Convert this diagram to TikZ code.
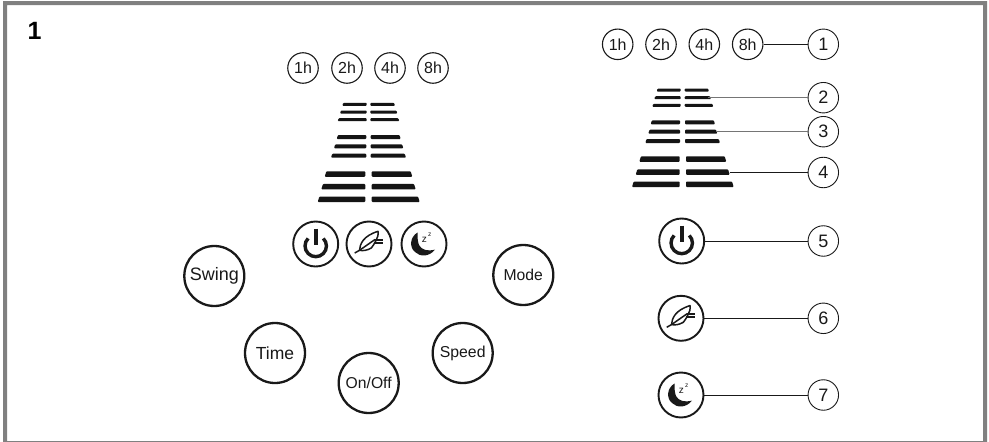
\documentclass[tikz,border=0pt]{standalone}
\usepackage{fontspec}
\setmainfont{Liberation Sans}
\newcommand{\barrow}[6]{%
 \fill[rounded corners=0.9pt,barcol] (#1,#5+#6/2) -- (#1+#6*.3,#5-#6/2) -- (#2,#5-#6/2) -- (#2,#5+#6/2) -- cycle;
 \fill[rounded corners=0.9pt,barcol] (#3,#5+#6/2) -- (#3,#5-#6/2) -- (#4-#6*.3,#5-#6/2) -- (#4,#5+#6/2) -- cycle;}
\tikzset{x=1pt,y=-1pt,
 timer/.style={circle,draw=ink,line width=1.1pt,minimum size=30.5pt,inner sep=0pt,text=ink,font=\fontsize{16}{17}\selectfont},
 num/.style={circle,draw=ink,line width=0.9pt,minimum size=30.5pt,inner sep=0pt,text=ink,font=\fontsize{18}{19}\selectfont},
 btn/.style={circle,draw=ink,line width=2.3pt,minimum size=60pt,inner sep=0pt,text=ink},
 icon/.style={circle,draw=ink,line width=1.9pt,minimum size=45pt,inner sep=0pt},
 lead/.style={draw=ink,line width=1pt},
 leadgray/.style={draw=ink!60,line width=1pt},
 pwr/.pic={
  \draw[ink,line width=3.4pt] (7.6,-5.6) arc[start angle=-45,end angle=225,radius=10.7];
  \draw[ink,line width=4pt] (0,-15.5) -- (0,1);
 },
 feath/.pic={
  \draw[ink,line width=1.5pt,line join=round] (-9.5,6.3) .. controls (-9,0) and (-6,-8) .. (9,-12.7)
    .. controls (9.5,-9) and (8.5,-6) .. (7.3,-4.3) .. controls (5.5,0) and (3,3) .. (2.3,4)
    .. controls (-2,6.5) and (-6,7) .. (-9.5,6.3) -- cycle;
  \draw[ink,line width=1.5pt] (-14.3,9) -- (-9.5,6.3) -- (6,-4.5);
  \draw[ink,line width=1.7pt] (5.5,-4.3) -- (14,-4.3);
  \draw[ink,line width=1.7pt] (4.5,-1) -- (14,-1);
 },
 mooon/.pic={
  \fill[ink] (-6.5,-11.5) .. controls (-14,-7) and (-15,3) .. (-9,8)
    .. controls (-4,13) and (5,13) .. (11,5.7)
    .. controls (4,7.5) and (-2.5,6) .. (-5,1) .. controls (-6.5,-3) and (-6.5,-7) .. (-6.5,-11.5) -- cycle;
  \node[text=ink,inner sep=0pt,font=\fontsize{10}{10}\selectfont] at (0.3,-4) {z};
  \node[text=ink,inner sep=0pt,font=\fontsize{6.5}{7}\selectfont] at (5.7,-9) {z};
 }
}
\colorlet{ink}{black!90}
\colorlet{barcol}{black!92}
\colorlet{framecol}{black!50}
\begin{document}
\begin{tikzpicture}
\useasboundingbox (0,0) rectangle (989,442);
\fill[white] (0,0) rectangle (989,442);
\fill[framecol,even odd rule] (3,1) rectangle (987,442) (7,5) rectangle (983,441);
\node[font=\bfseries\fontsize{25}{27}\selectfont,text=black,inner sep=0pt] (title) at (34.5,31) {1};
% left timers
\node[timer] (la) at (303,68) {1h};
\node[timer] (lb) at (347,68) {2h};
\node[timer] (lc) at (390,68) {4h};
\node[timer] (ld) at (433,68) {8h};
% left bars
\barrow{342.3}{366.7}{370.3}{395}{104.3}{3}
\barrow{340}{366.7}{370.3}{397.3}{112}{3}
\barrow{337.7}{366.7}{370.3}{399.3}{119.7}{3}
\barrow{336.7}{366.3}{370.7}{400.7}{137}{4}
\barrow{334}{366.3}{370.7}{403.3}{146.3}{4}
\barrow{331}{366.3}{370.7}{406}{155.7}{4}
\barrow{324.7}{365.3}{371.7}{412.3}{174}{5.5}
\barrow{321.3}{365.3}{371.7}{415.7}{186.7}{5.5}
\barrow{317.7}{365.3}{371.7}{419.7}{199.3}{5.5}
% left icons
\node[icon] (lp) at (315.7,244) {};
\node[icon] (lf) at (369,244) {};
\node[icon] (lm) at (424,244) {};
\pic at (lp.center) {pwr};
\pic at (lf.center) {feath};
\pic at (lm.center) {mooon};
% buttons
\node[btn,font=\fontsize{18}{20}\selectfont] (swing) at (214.3,276) {Swing};
\node[btn,font=\fontsize{17.5}{20}\selectfont] (time) at (275,353) {Time};
\node[btn,font=\fontsize{15.7}{18}\selectfont] (onoff) at (368.7,383) {On/Off};
\node[btn,font=\fontsize{15.8}{18}\selectfont] (speed) at (462.7,353) {Speed};
\node[btn,font=\fontsize{15.7}{18}\selectfont] (mode) at (523.3,275) {Mode};
% right timers
\node[timer] (ra) at (617.7,44.3) {1h};
\node[timer] (rb) at (661,44.3) {2h};
\node[timer] (rc) at (704.3,44.3) {4h};
\node[timer] (rd) at (747.7,44.3) {8h};
% right bars
\barrow{656.7}{680.7}{684.7}{709}{90}{3}
\barrow{654.3}{680.7}{684.7}{711}{97.7}{3}
\barrow{652.3}{680.7}{684.7}{713.3}{105.3}{3}
\barrow{650.7}{680}{685}{715}{122.3}{4}
\barrow{648.3}{680}{685}{717.3}{131.7}{4}
\barrow{645.3}{680}{685}{720}{141}{4}
\barrow{639.3}{679.7}{686}{726.3}{159}{5.5}
\barrow{635.7}{679.7}{686}{729.7}{172}{5.5}
\barrow{632}{679.7}{686}{733.7}{184.3}{5.5}
\coordinate (bartwo) at (708,97.7);
\coordinate (barthree) at (716,131.7);
\coordinate (barfour) at (729.5,172.5);
% right icons
\node[icon] (rp) at (681.7,241) {};
\node[icon] (rf) at (681,318.3) {};
\node[icon] (rm) at (681,395) {};
\pic at (rp.center) {pwr};
\pic at (rf.center) {feath};
\pic at (rm.center) {mooon};
% numbers
\node[num] (n1) at (823.3,44.3) {1};
\node[num] (n2) at (823.3,97.7) {2};
\node[num] (n3) at (823.3,131.7) {3};
\node[num] (n4) at (823.3,172.5) {4};
\node[num] (n5) at (823.3,241) {5};
\node[num] (n6) at (823.3,318.3) {6};
\node[num] (n7) at (823.3,395) {7};
% leaders
\draw[lead] (rd) -- (n1);
\draw[leadgray] (bartwo) -- (n2);
\draw[leadgray] (barthree) -- (n3);
\draw[lead] (barfour) -- (n4);
\draw[lead] (rp) -- (n5);
\draw[lead] (rf) -- (n6);
\draw[lead] (rm) -- (n7);
\end{tikzpicture}
\end{document}
